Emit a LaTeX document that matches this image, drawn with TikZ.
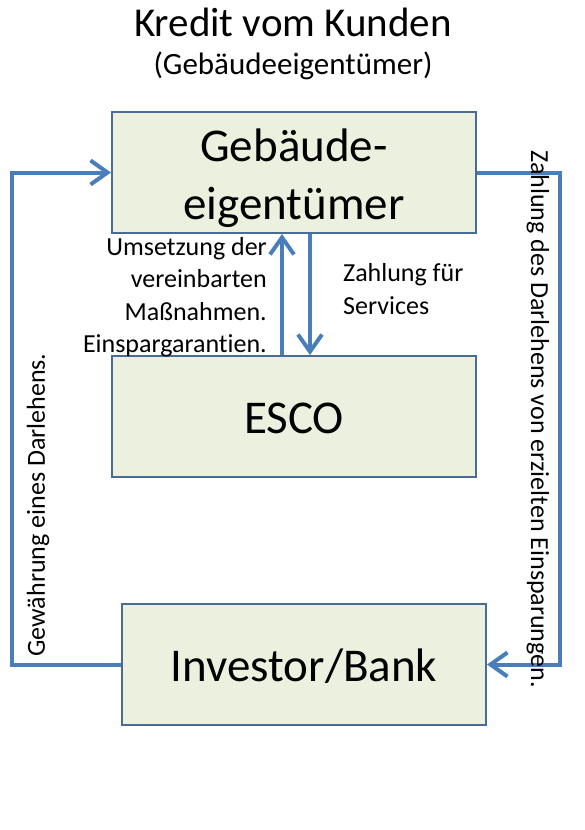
\documentclass[tikz,border=0pt]{standalone}
\usepackage{fontspec}
\setmainfont{Carlito}[Ligatures={NoCommon}]
\usetikzlibrary{arrows.meta}
\definecolor{boxfill}{HTML}{EBF1DE}
\definecolor{boxline}{HTML}{4A6B96}
\definecolor{arrowc}{HTML}{4A7EBB}
\tikzset{
  mainbox/.style={draw=boxline, line width=2pt, fill=boxfill, minimum width=364pt, minimum height=121pt, inner sep=0pt, align=center, font=\fontsize{47}{57}\selectfont},
  boxtext/.style={inner sep=0pt, align=center, font=\fontsize{47}{58}\selectfont},
  flow/.style={draw=arrowc, line width=4pt},
  tip/.style={-{Straight Barb[length=17pt,width=24pt]}},
  lbl/.style={inner sep=0pt, font=\fontsize{26}{32.5}\selectfont}
}
\begin{document}
\begin{tikzpicture}[x=1pt,y=-1pt]
\useasboundingbox (0,0) rectangle (585,830);
\node[inner sep=0pt, font=\fontsize{41}{45}\selectfont] (title) at (293,22) {Kredit vom Kunden};
\node[inner sep=0pt, font=\fontsize{31}{35}\selectfont] (subtitle) at (293,66) {(Gebäudeeigentümer)};
\node[mainbox] (geb) at (294,172.5) {};
\node[boxtext] (gebtxt) at (294,178) {Gebäude-\\eigentümer};
\node[mainbox] (esco) at (294,416.5) {};
\node[boxtext] (escotxt) at (294,418) {ESCO};
\node[mainbox] (inv) at (304,664.5) {};
\node[boxtext] (invtxt) at (304,666) {Investor/Bank};
\coordinate (lb) at (12,664.5);
\coordinate (lt) at (12,172.5);
\coordinate (rt) at (560,172.5);
\coordinate (rb) at (560,664.5);
\draw[flow,tip,line join=miter] (inv.west) -- (lb) -- (lt) -- (geb.west);
\draw[flow,tip,line join=miter] (geb.east) -- (rt) -- (rb) -- (inv.east);
\draw[flow,tip] (esco.north -| 282,0) -- (geb.south -| 282,0);
\draw[flow,tip] (geb.south -| 310,0) -- (esco.north -| 310,0);
\node[lbl, align=right, anchor=east] (lblL) at (267,297) {Umsetzung der\\vereinbarten\\Maßnahmen.\\Einspargarantien.};
\node[lbl, align=left, anchor=west] (lblR) at (343,289) {Zahlung für\\Services};
\node[lbl, rotate=-90] (lblRot) at (538,419) {Zahlung des Darlehens von erzielten Einsparungen.};
\node[lbl, rotate=90] (lblLot) at (38,505) {Gewährung eines Darlehens.};
\end{tikzpicture}
\end{document}
